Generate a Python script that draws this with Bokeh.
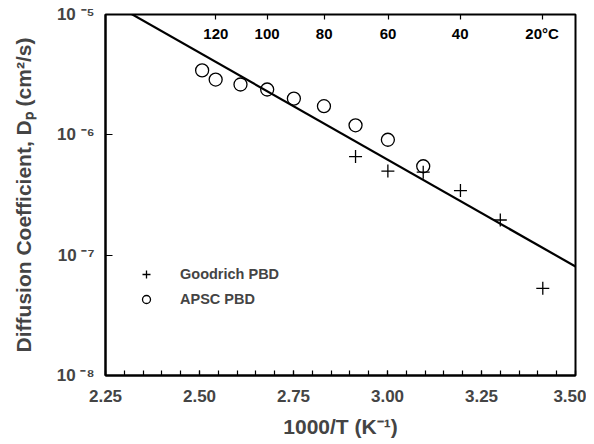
from bokeh.plotting import figure
from bokeh.models import (LinearAxis, FixedTicker, CustomJSTickFormatter, Legend,
                          LegendItem, Range1d)
from bokeh.core.properties import value
from bokeh.embed import file_html
from bokeh.resources import INLINE

# Data
apsc_x = [2.507, 2.543, 2.609, 2.680, 2.751, 2.831, 2.915, 3.001, 3.095]
apsc_y = [3.43e-6, 2.88e-6, 2.62e-6, 2.38e-6, 2.00e-6, 1.73e-6, 1.20e-6, 0.91e-6, 0.548e-6]
good_x = [2.915, 3.001, 3.095, 3.194, 3.300, 3.413]
good_y = [6.6e-7, 5.0e-7, 4.89e-7, 3.44e-7, 1.96e-7, 5.3e-8]
fit_x = [2.25, 3.50]
fit_y = [1.34e-5, 8.05e-8]
temps_c = [120, 100, 80, 60, 40, 20]
temp_labels = ["120", "100", "80", "60", "40", "20°C"]
x_ticks = [2.25, 2.50, 2.75, 3.00, 3.25, 3.50]
y_ticks = [1e-8, 1e-7, 1e-6, 1e-5]

FONT = "Liberation Sans"

p = figure(width=586, height=444, y_axis_type="log",
           x_range=Range1d(2.25, 3.50), y_range=Range1d(1e-8, 1e-5),
           output_backend="svg", toolbar_location=None,
           min_border_left=105, min_border_right=11, min_border_top=14,
           min_border_bottom=69)
p.grid.visible = False
p.outline_line_color = "black"
p.outline_line_width = 2
p.background_fill_color = "white"
p.border_fill_color = "white"

# Fit line
p.line(fit_x, fit_y, line_color="black", line_width=2.2)

# Data
r_good = p.scatter(good_x, good_y, marker="cross", size=13, line_color="black",
                   line_width=1.3)
r_apsc = p.scatter(apsc_x, apsc_y, marker="circle", size=13, line_color="black",
                   fill_color=None, line_width=1.3)

# Bottom axis
xa = p.xaxis[0]
xa.ticker = FixedTicker(ticks=x_ticks,
                        minor_ticks=[round(2.25 + 0.05 * i, 2) for i in range(26)])
xa.formatter = CustomJSTickFormatter(code="return tick.toFixed(2);")
xa.axis_line_width = 2
xa.major_tick_in = 5
xa.major_tick_out = 0
xa.minor_tick_in = 5
xa.minor_tick_out = 0
xa.major_tick_line_width = 1.2
xa.minor_tick_line_width = 1.2
xa.major_label_standoff = 14
xa.major_label_text_font = FONT
xa.major_label_text_font_style = "bold"
xa.major_label_text_font_size = "17px"
xa.axis_label = "1000/T (K⁻¹)"
xa.axis_label_text_font = FONT
xa.axis_label_text_font_style = "bold"
xa.axis_label_text_font_size = "21px"
xa.axis_label_standoff = 10

# Left axis
ya = p.yaxis[0]
ya.ticker = FixedTicker(ticks=y_ticks, minor_ticks=[])
ya.formatter = CustomJSTickFormatter(code="""
const sup = {'-':'⁻','0':'⁰','1':'¹','2':'²','3':'³','4':'⁴','5':'⁵','6':'⁶','7':'⁷','8':'⁸','9':'⁹'};
const e = Math.round(Math.log10(tick)).toString();
let s = '';
for (const c of e) { s += sup[c]; }
return '10 ' + s;
""")
ya.axis_line_width = 2
ya.major_tick_in = 7
ya.major_tick_out = 0
ya.major_tick_line_width = 1.2
ya.minor_tick_line_color = None
ya.major_label_standoff = 11
ya.major_label_text_font = FONT
ya.major_label_text_font_style = "bold"
ya.major_label_text_font_size = "17px"
ya.axis_label = "Diffusion Coefficient, Dₚ (cm²/s)"
ya.axis_label_text_font = FONT
ya.axis_label_text_font_style = "bold"
ya.axis_label_text_font_size = "21px"
ya.axis_label_standoff = 19

# Top temperature axis (ticks only, labels drawn inside the frame)
temp_x = [1000.0 / (t + 273.15) for t in temps_c]
top = LinearAxis(ticker=FixedTicker(ticks=temp_x, minor_ticks=[]),
                 formatter=CustomJSTickFormatter(code="return '';"))
top.axis_line_color = None
top.major_tick_in = 5
top.major_tick_out = 0
top.major_tick_line_width = 1.2
top.minor_tick_line_color = None
top.major_label_standoff = 0
p.add_layout(top, "above")

p.text(x=temp_x, y=[1e-5] * len(temp_x), text=temp_labels,
       text_font=value(FONT), text_font_style="bold", text_font_size="15px",
       text_align="center", text_baseline="middle", y_offset=19,
       text_color="black")

legend = Legend(items=[LegendItem(label="Goodrich PBD", renderers=[r_good]),
                       LegendItem(label="APSC PBD", renderers=[r_apsc])],
                location=(31, 66), padding=0, spacing=5, glyph_width=20,
                glyph_height=20, label_height=20, label_standoff=24,
                border_line_color=None, background_fill_alpha=0,
                label_text_font=FONT, label_text_font_style="bold",
                label_text_font_size="14.5px")
p.add_layout(legend, "center")

open("out.html", "w").write(file_html(p, INLINE))
